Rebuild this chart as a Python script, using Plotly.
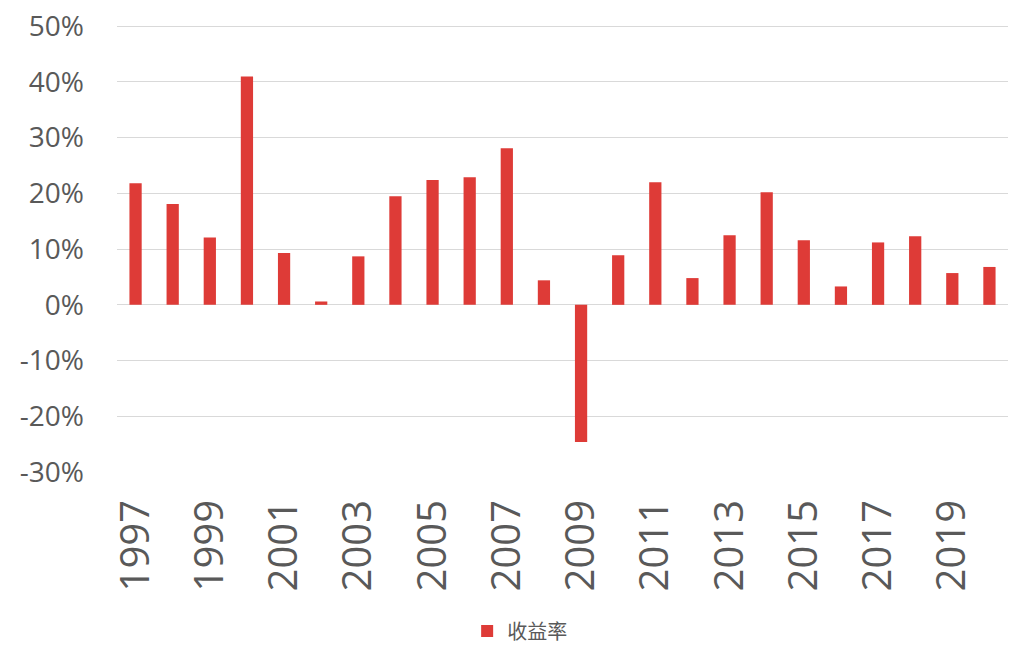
import plotly.graph_objects as go

years = [str(y) for y in range(1997, 2021)]
returns = [21.8, 18.1, 12.1, 41.0, 9.3, 0.6, 8.7, 19.5, 22.4, 22.9, 28.1, 4.4,
           -24.6, 8.9, 22.0, 4.8, 12.5, 20.2, 11.6, 3.3, 11.2, 12.3, 5.7, 6.8]
series_name = '收益率'
tick_years = years[::2]
y_ticks = [-30, -20, -10, 0, 10, 20, 30, 40, 50]

fig = go.Figure()
fig.add_trace(go.Bar(
    x=years,
    y=returns,
    name=series_name,
    marker=dict(color='#DE3B37', line=dict(width=0)),
    showlegend=True,
))

fig.update_layout(
    width=1029,
    height=664,
    margin=dict(l=117, r=21, t=24, b=192, autoexpand=False),
    paper_bgcolor='white',
    plot_bgcolor='white',
    bargap=0.67,
    font=dict(family='Open Sans, Noto Sans CJK SC', color='#595959'),
    showlegend=True,
    legend=dict(
        orientation='h',
        xref='container', yref='container',
        x=0.505, xanchor='center',
        y=0.0497, yanchor='middle',
        font=dict(size=20, family='Noto Sans CJK SC', color='#595959'),
        itemwidth=30,
    ),
)

fig.update_xaxes(
    type='category',
    tickmode='array',
    tickvals=tick_years,
    ticktext=tick_years,
    tickangle=-90,
    tickfont=dict(size=40),
    showgrid=False,
    showline=False,
    zeroline=False,
    ticks='',
    ticklabelstandoff=19,
    automargin=False,
)

fig.update_yaxes(
    range=[-30, 50.4],
    tickmode='array',
    tickvals=y_ticks,
    ticktext=[f'{v}%' for v in y_ticks],
    tickfont=dict(size=28),
    showgrid=True,
    gridcolor='#D9D9D9',
    gridwidth=1.3,
    zeroline=True,
    zerolinecolor='#D9D9D9',
    zerolinewidth=1.3,
    showline=False,
    ticks='',
    ticklabelstandoff=32,
    ticklabeloverflow='allow',
    automargin=False,
)

# drop the default 8px body margin so the figure fills the window
fig.write_html(
    'out.html',
    config=dict(displayModeBar=False),
    post_script="document.body.style.margin='0';",
)
